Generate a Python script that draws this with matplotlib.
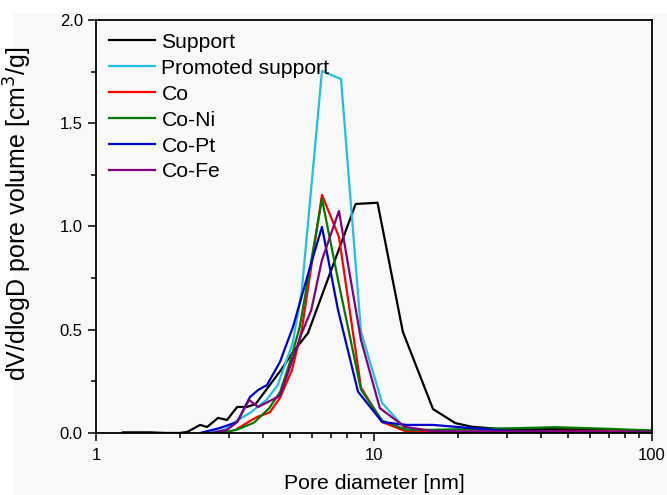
import matplotlib
matplotlib.use("Agg")
import matplotlib.pyplot as plt
from matplotlib.patches import Rectangle
from matplotlib.ticker import LogLocator, FixedLocator, MultipleLocator, NullFormatter, FormatStrFormatter

plt.rcParams['font.family'] = ['Liberation Sans', 'DejaVu Sans']

# Support
d_support = [1.25, 1.4, 1.56, 1.78, 2.0, 2.13, 2.37, 2.51, 2.75, 2.96, 3.22, 3.49, 3.75,
             4.6, 5.1, 5.79, 8.59, 10.3, 12.7, 16.3, 19.6, 22.5, 28, 36, 50, 70, 100]
v_support = [0.003, 0.003, 0.003, 0.0, 0.0, 0.005, 0.039, 0.029, 0.073, 0.063, 0.126, 0.126, 0.14,
             0.30, 0.39, 0.484, 1.109, 1.115, 0.49, 0.116, 0.048, 0.03, 0.02, 0.02, 0.018, 0.015, 0.01]

# Promoted support
d_prom = [2.5, 2.9, 3.2, 3.58, 4.1, 4.5, 5.1, 5.5, 6.5, 7.61, 8.98, 10.7, 12.9, 16, 20, 30, 50, 100]
v_prom = [0.0, 0.015, 0.058, 0.097, 0.16, 0.23, 0.436, 0.69, 1.753, 1.714, 0.49, 0.145, 0.025,
          0.01, 0.005, 0.005, 0.005, 0.005]

# Co
d_co = [3.22, 3.5, 3.79, 4.22, 4.59, 5.07, 5.5, 6.5, 7.48, 8.98, 10.7, 12.9, 16, 20, 30, 50, 100]
v_co = [0.02, 0.05, 0.077, 0.10, 0.17, 0.305, 0.50, 1.153, 0.95, 0.22, 0.053, 0.01,
        0.005, 0.005, 0.008, 0.01, 0.008]

# Co-Ni
d_coni = [2.8, 3.2, 3.7, 4.2, 4.6, 4.95, 5.4, 6.5, 7.48, 8.98, 10.7, 13.1, 16, 20, 30, 45, 70, 100]
v_coni = [0.0, 0.015, 0.05, 0.12, 0.2, 0.33, 0.51, 1.133, 0.72, 0.21, 0.06, 0.015,
          0.015, 0.018, 0.022, 0.028, 0.02, 0.012]

# Co-Pt
d_copt = [2.37, 2.79, 3.22, 3.58, 3.83, 4.12, 4.59, 5.11, 5.88, 6.5, 7.42, 8.76, 10.7, 13.1,
          16.3, 22.2, 30, 50, 100]
v_copt = [0.0, 0.024, 0.053, 0.174, 0.208, 0.232, 0.344, 0.513, 0.80, 0.998, 0.597, 0.20,
          0.053, 0.039, 0.039, 0.024, 0.01, 0.005, 0.005]

# Co-Fe
d_cofe = [2.6, 2.96, 3.22, 3.55, 3.83, 4.59, 5.5, 5.95, 6.5, 7.48, 8.98, 10.5, 12.9, 16,
          20, 30, 50, 100]
v_cofe = [0.0, 0.015, 0.053, 0.16, 0.126, 0.18, 0.484, 0.596, 0.838, 1.075, 0.45, 0.12, 0.03,
          0.01, 0.008, 0.008, 0.008, 0.005]

series = [
    ("Support", d_support, v_support, "#000000"),
    ("Promoted support", d_prom, v_prom, "#1FC0E3"),
    ("Co", d_co, v_co, "#FF0000"),
    ("Co-Ni", d_coni, v_coni, "#007A00"),
    ("Co-Pt", d_copt, v_copt, "#0000CC"),
    ("Co-Fe", d_cofe, v_cofe, "#800080"),
]

bg = "#f9f9f9"
fig = plt.figure(figsize=(6.67, 4.95), dpi=100, facecolor=bg)
# thin white margins at top and left, as in the reference image
fig.patches.append(Rectangle((0, 0), 13 / 667, 1, transform=fig.transFigure,
                             facecolor="white", edgecolor="none", zorder=-10))
fig.patches.append(Rectangle((0, 1 - 13 / 495), 1, 13 / 495, transform=fig.transFigure,
                             facecolor="white", edgecolor="none", zorder=-10))

ax = fig.add_axes([0.1439, 0.1253, 0.8336, 0.8343], facecolor=bg)

for name, d, v, c in series:
    ax.plot(d, v, color=c, lw=1.6, label=name)

ax.set_xscale("log")
ax.set_xlim(1, 100)
ax.set_ylim(0, 2.0)
ax.xaxis.set_major_locator(FixedLocator([1, 10, 100]))
ax.set_xticklabels(["1", "10", "100"])
ax.xaxis.set_minor_locator(LogLocator(base=10, subs=range(2, 10)))
ax.xaxis.set_minor_formatter(NullFormatter())
ax.yaxis.set_major_locator(MultipleLocator(0.5))
ax.yaxis.set_minor_locator(MultipleLocator(0.25))
ax.yaxis.set_major_formatter(FormatStrFormatter("%.1f"))

ax.tick_params(which="both", direction="out", top=False, right=False, labelsize=12, width=1.1)
ax.tick_params(which="major", length=6)
ax.tick_params(which="minor", length=3.6)
ax.tick_params(axis="x", which="major", pad=5)
for s in ax.spines.values():
    s.set_linewidth(1.3)

ax.set_xlabel("Pore diameter [nm]", fontsize=15.3, labelpad=8)
ax.set_ylabel("dV/dlogD pore volume [cm$^3$/g]", fontsize=18)
ax.yaxis.set_label_coords(-0.111, 0.53)

leg = ax.legend(loc="upper left", frameon=False, fontsize=15.2, handlelength=2.2,
                handletextpad=0.3, labelspacing=0.33, borderaxespad=0.2,
                bbox_to_anchor=(0.0, 1.0))

fig.savefig("out.png", dpi=100, facecolor=bg)
